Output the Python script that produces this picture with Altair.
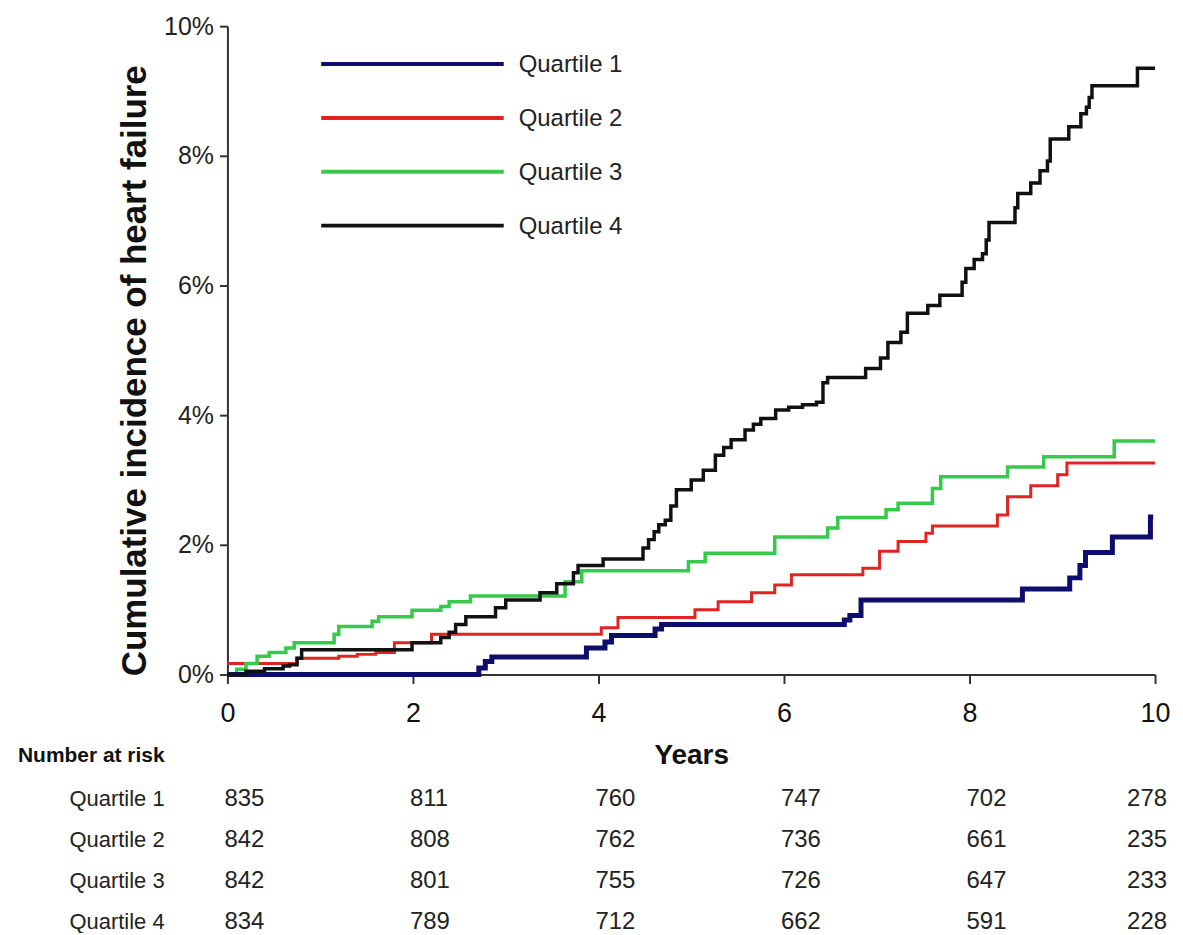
import altair as alt
import pandas as pd

# ---------------- data ----------------
SERIES = ["Quartile 1", "Quartile 2", "Quartile 3", "Quartile 4"]

Q1_TIME = [0, 2.71, 2.78, 2.85, 3.87, 4.07, 4.14, 4.61, 4.68, 6.65, 6.71, 6.83,
           8.57, 9.08, 9.19, 9.25, 9.54, 9.95, 9.98]
Q1_PCT = [0, 0.10, 0.20, 0.27, 0.41, 0.50, 0.60, 0.70, 0.77, 0.84, 0.91, 1.15,
          1.32, 1.49, 1.68, 1.88, 2.12, 2.43, 2.43]

Q2_TIME = [0, 0.75, 1.2, 1.4, 1.6, 1.8, 2.2, 4.03, 4.21, 5.04, 5.29, 5.65, 5.9,
           6.08, 6.85, 7.03, 7.23, 7.53, 7.6, 8.3, 8.41, 8.66, 8.95, 9.05, 10.0]
Q2_PCT = [0.17, 0.25, 0.28, 0.31, 0.34, 0.49, 0.62, 0.72, 0.88, 1.00, 1.12, 1.26, 1.38,
          1.54, 1.64, 1.90, 2.05, 2.18, 2.29, 2.46, 2.74, 2.91, 3.08, 3.26, 3.26]

Q3_TIME = [0, 0.1, 0.2, 0.32, 0.45, 0.63, 0.72, 1.15, 1.2, 1.56, 1.63, 1.99, 2.3,
           2.39, 2.62, 3.64, 3.82, 4.97, 5.15, 5.9, 6.47, 6.58, 7.1, 7.23, 7.6,
           7.69, 8.41, 8.8, 9.56, 10.0]
Q3_PCT = [0, 0.08, 0.17, 0.28, 0.34, 0.41, 0.49, 0.62, 0.74, 0.82, 0.89, 0.99, 1.05,
          1.12, 1.21, 1.43, 1.60, 1.74, 1.87, 2.12, 2.26, 2.42, 2.54, 2.64, 2.87,
          3.05, 3.20, 3.36, 3.60, 3.60]

Q4_TIME = [0, 0.2, 0.4, 0.6, 0.67, 0.75, 0.8, 1.99, 2.3, 2.39, 2.46, 2.57, 2.89, 3.0,
           3.37, 3.55, 3.73, 3.78, 4.05, 4.48, 4.54, 4.6, 4.65, 4.72, 4.78, 4.84,
           5.0, 5.13, 5.26, 5.35, 5.43, 5.58, 5.67, 5.75, 5.91, 6.05, 6.2, 6.35,
           6.42, 6.47, 6.88, 7.04, 7.12, 7.26, 7.33, 7.55, 7.68, 7.92, 7.96, 8.05,
           8.14, 8.18, 8.21, 8.49, 8.52, 8.66, 8.76, 8.84, 8.87, 9.07, 9.2, 9.26,
           9.29, 9.32, 9.81, 10.0]
Q4_PCT = [0, 0.05, 0.09, 0.13, 0.15, 0.25, 0.38, 0.49, 0.57, 0.65, 0.77, 0.89, 1.03, 1.15,
          1.26, 1.40, 1.57, 1.68, 1.78, 1.95, 2.08, 2.20, 2.31, 2.38, 2.60, 2.85,
          3.00, 3.15, 3.38, 3.50, 3.62, 3.77, 3.86, 3.95, 4.08, 4.12, 4.16, 4.20,
          4.50, 4.58, 4.72, 4.88, 5.12, 5.28, 5.57, 5.69, 5.85, 6.05, 6.26, 6.40,
          6.49, 6.70, 6.97, 7.20, 7.42, 7.58, 7.77, 7.92, 8.26, 8.45, 8.65, 8.75,
          8.90, 9.08, 9.35, 9.35]

RISK_YEARS = [0, 2, 4, 6, 8, 10]
RISK_Q1 = [835, 811, 760, 747, 702, 278]
RISK_Q2 = [842, 808, 762, 736, 661, 235]
RISK_Q3 = [842, 801, 755, 726, 647, 233]
RISK_Q4 = [834, 789, 712, 662, 591, 228]

YEAR_TICKS = [0, 2, 4, 6, 8, 10]
PCT_TICKS = [0, 0.02, 0.04, 0.06, 0.08, 0.10]

# ---------------- styling ----------------
COLORS = ["#0d0d6e", "#e02424", "#36c94b", "#111111"]
WIDTHS = [5, 3, 3.5, 3.5]
SANS = "Liberation Sans, Arial, sans-serif"

times = [Q1_TIME, Q2_TIME, Q3_TIME, Q4_TIME]
pcts = [Q1_PCT, Q2_PCT, Q3_PCT, Q4_PCT]
risks = [RISK_Q1, RISK_Q2, RISK_Q3, RISK_Q4]

x_scale = alt.Scale(domain=[0, 10], nice=False, zero=True)
y_scale = alt.Scale(domain=[0, 0.1], nice=False)

x_axis = alt.Axis(
    values=YEAR_TICKS, title="Years", grid=False,
    domainColor="#333333", domainWidth=2, tickColor="#333333", tickWidth=2, tickSize=9,
    labelFont=SANS, labelFontSize=27, labelColor="#111111", labelPadding=17,
    labelFlush=False,
    titleFont=SANS, titleFontSize=28, titleFontWeight="bold", titleColor="#111111",
    titleBaseline="middle", titleY=81,
)
y_axis = alt.Axis(
    values=PCT_TICKS, format=".0%", title="Cumulative incidence of heart failure",
    grid=False, domainColor="#333333", domainWidth=2, tickColor="#333333", tickWidth=2,
    tickSize=8, labelFont=SANS, labelFontSize=25, labelColor="#222222", labelPadding=6,
    labelFlush=False,
    titleFont=SANS, titleFontSize=35, titleFontWeight="bold", titleColor="#111111",
    titleBaseline="middle", titleAlign="center", titleAngle=270, titleX=-93, titleY=345,
)

layers = []
for i in [1, 2, 0, 3]:
    df = pd.DataFrame({
        "series": SERIES[i],
        "year": times[i],
        "incidence": [p / 100 for p in pcts[i]],
    })
    layers.append(
        alt.Chart(df).mark_line(
            interpolate="step-after", color=COLORS[i], strokeWidth=WIDTHS[i],
            strokeCap="butt", strokeJoin="miter",
        ).encode(
            x=alt.X("year:Q", scale=x_scale, axis=x_axis),
            y=alt.Y("incidence:Q", scale=y_scale, axis=y_axis),
        )
    )

# in-plot legend
for i, name in enumerate(SERIES):
    ypos = 38 + i * 54
    ldf = pd.DataFrame({"series": [name]})
    layers.append(
        alt.Chart(ldf).mark_rule(color=COLORS[i], strokeWidth=4).encode(
            x=alt.value(94), x2=alt.value(277), y=alt.value(ypos)
        )
    )
    layers.append(
        alt.Chart(ldf).mark_text(
            align="left", baseline="middle", font=SANS, fontSize=24, color="#222222"
        ).encode(x=alt.value(292), y=alt.value(ypos + 1), text="series:N")
    )

# number at risk table
layers.append(
    alt.Chart(pd.DataFrame({"label": ["Number at risk"]})).mark_text(
        align="right", baseline="middle", font=SANS, fontSize=21,
        fontWeight="bold", color="#111111",
    ).encode(x=alt.value(-63), y=alt.value(732), text="label:N")
)
for i, name in enumerate(SERIES):
    ypos = 775 + i * 41
    rdf = pd.DataFrame({"year": RISK_YEARS, "n": risks[i], "series": name})
    layers.append(
        alt.Chart(pd.DataFrame({"label": [name]})).mark_text(
            align="right", baseline="middle", font=SANS, fontSize=22, color="#222222"
        ).encode(x=alt.value(-63), y=alt.value(ypos), text="label:N")
    )
    layers.append(
        alt.Chart(rdf).transform_filter("datum.year < 10").mark_text(
            align="left", baseline="middle", font=SANS, fontSize=24,
            color="#222222", dx=-3,
        ).encode(x=alt.X("year:Q", scale=x_scale, axis=x_axis),
                 y=alt.value(ypos), text="n:N")
    )
    layers.append(
        alt.Chart(rdf).transform_filter("datum.year >= 10").mark_text(
            align="right", baseline="middle", font=SANS, fontSize=24,
            color="#222222", dx=12,
        ).encode(x=alt.X("year:Q", scale=x_scale, axis=x_axis),
                 y=alt.value(ypos), text="n:N")
    )

chart = alt.layer(*layers).properties(
    width=930, height=650,
    autosize=alt.AutoSizeParams(type="none"),
    padding={"left": 220, "top": 17, "right": 20, "bottom": 258},
    background="white",
).configure_view(stroke=None)

chart.save("out.html", embed_options={"renderer": "svg", "actions": False})
